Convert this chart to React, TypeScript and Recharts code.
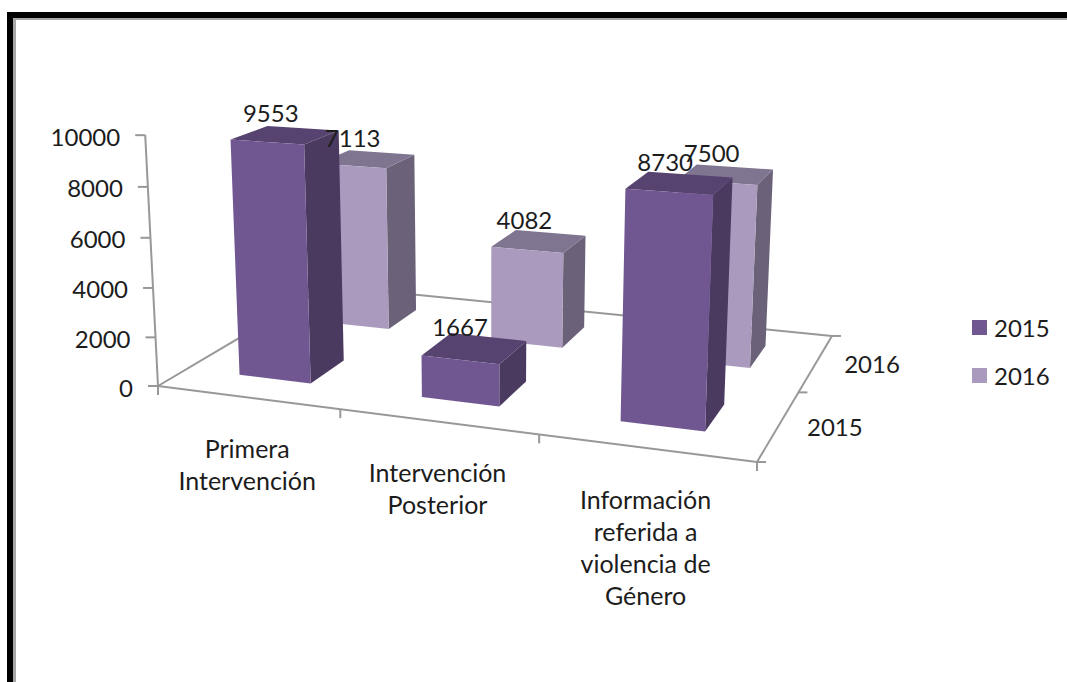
import { Bar, BarChart, LabelList, Legend, XAxis, YAxis } from 'recharts'

const categories = ['Primera Intervención', 'Intervención Posterior', 'Información referida a violencia de Género']
const values2015 = [9553, 1667, 8730]
const values2016 = [7113, 4082, 7500]
const yTicks = [0, 2000, 4000, 6000, 8000, 10000]
const depthLabels = ['2015', '2016']

const chartData = categories.map((name, i) => ({
  name,
  y2015: values2015[i],
  y2016: values2016[i],
}))

const CHART_W = 1067
const CHART_H = 682
const PLOT_LEFT = 158
const PLOT_TOP = 135
const PLOT_W = 599
const PLOT_H = 251
const BAR_SIZE = (PLOT_W / categories.length) * 0.4

const FONT = 'Lato, sans-serif'
const FONT_SIZE = 24
const CATEGORY_FONT_SIZE = 25
const TEXT = '#1c1c1c'
const AXIS = '#989898'
const AXIS_WIDTH = 2

const COLORS_2015 = { front: '#715792', side: '#4a3a60', top: '#574370' }
const COLORS_2016 = { front: '#aa9bbe', side: '#6b6279', top: '#807590' }

// camera for the tilted floor: homography of the unit square plus a vertical vanishing point
function project(u: number, v: number, h = 0) {
  const k = -0.0374 * h
  const w = -0.1251 * u + 0.2047 * v + 1 + k
  return {
    x: (504.3 * u + 235.9 * v + 158 + k * 487) / w,
    y: (18.2 * u - 41.5 * v + 386 + k * 6842) / w,
  }
}

function toPoints(corners: number[][]) {
  return corners
    .map(([u, v, h]) => {
      const p = project(u, v, h)
      return `${p.x},${p.y}`
    })
    .join(' ')
}

const toU = (x: number) => (x - PLOT_LEFT) / PLOT_W

function makeBarShape(v0: number, v1: number, colors: typeof COLORS_2015) {
  return function BarShape({ x, width, height }: any) {
    const u0 = toU(x)
    const u1 = toU(x + width)
    const h = height / PLOT_H
    return (
      <g>
        <polygon points={toPoints([[u1, v0, 0], [u1, v1, 0], [u1, v1, h], [u1, v0, h]])} fill={colors.side} />
        <polygon points={toPoints([[u0, v0, h], [u1, v0, h], [u1, v1, h], [u0, v1, h]])} fill={colors.top} />
        <polygon points={toPoints([[u0, v0, 0], [u1, v0, 0], [u1, v0, h], [u0, v0, h]])} fill={colors.front} />
      </g>
    )
  }
}

function makeValueLabel(vMid: number) {
  return function ValueLabel(props: any) {
    const box = props.viewBox ?? props
    const p = project(toU(box.x + box.width / 2), vMid, box.height / PLOT_H)
    return (
      <text x={p.x - 14.5} y={p.y - 22} textAnchor="middle" dominantBaseline="central" fontFamily={FONT} fontSize={FONT_SIZE} fill={TEXT}>
        {props.value}
      </text>
    )
  }
}

function YTick({ payload }: any) {
  const p = project(0, 0, payload.value / 10000)
  return (
    <g>
      <line x1={p.x - 10} y1={p.y} x2={p.x} y2={p.y} stroke={AXIS} strokeWidth={AXIS_WIDTH} />
      <text x={p.x - 25} y={p.y + 1} textAnchor="end" dominantBaseline="central" fontFamily={FONT} fontSize={FONT_SIZE} fill={TEXT}>
        {payload.value}
      </text>
    </g>
  )
}

function wrapLabel(label: string) {
  const lines: string[] = []
  label.split(' ').forEach((word) => {
    const last = lines[lines.length - 1]
    if (last && `${last} ${word}`.length <= 13) {
      lines[lines.length - 1] = `${last} ${word}`
    } else {
      lines.push(word)
    }
  })
  return lines
}

function XTick({ x, payload }: any) {
  const p = project(toU(x), 0)
  return (
    <g>
      {wrapLabel(payload.value).map((line, i) => (
        <text key={line} x={p.x} y={p.y + 51 + i * 32} textAnchor="middle" dominantBaseline="central" fontFamily={FONT} fontSize={CATEGORY_FONT_SIZE} fill={TEXT}>
          {line}
        </text>
      ))}
    </g>
  )
}

function FloorAxes() {
  const edges = [
    [[0, 0, 0], [0, 0, 1]],
    [[0, 0, 0], [1, 0, 0]],
    [[1, 0, 0], [1, 1, 0]],
    [[1, 1, 0], [0, 1, 0]],
    [[0, 1, 0], [0, 0, 0]],
  ]
  const frontTicks = categories.map((_, i) => project(i / categories.length, 0))
  const depthTicks = [0, 0.5, 1].map((v) => project(1, v))
  const corner = project(1, 0)
  return (
    <g>
      {edges.map(([a, b], i) => {
        const p = project(a[0], a[1], a[2])
        const q = project(b[0], b[1], b[2])
        return <line key={i} x1={p.x} y1={p.y} x2={q.x} y2={q.y} stroke={AXIS} strokeWidth={AXIS_WIDTH} />
      })}
      {[...frontTicks, corner].map((p, i) => (
        <line key={i} x1={p.x} y1={p.y} x2={p.x} y2={p.y + 9} stroke={AXIS} strokeWidth={AXIS_WIDTH} />
      ))}
      {depthTicks.map((p, i) => (
        <line key={i} x1={p.x} y1={p.y} x2={p.x + 9} y2={p.y} stroke={AXIS} strokeWidth={AXIS_WIDTH} />
      ))}
      {depthLabels.map((label, i) => {
        const p = project(1, 0.25 + i * 0.5)
        return (
          <text key={label} x={p.x + 56} y={p.y + 1} textAnchor="middle" dominantBaseline="central" fontFamily={FONT} fontSize={FONT_SIZE} fill={TEXT}>
            {label}
          </text>
        )
      })}
    </g>
  )
}

function LegendBox({ payload }: any) {
  return (
    <div style={{ display: 'flex', flexDirection: 'column', gap: 20 }}>
      {payload.map((entry: any) => (
        <div key={entry.value} style={{ display: 'flex', alignItems: 'center', height: 28, gap: 7, fontFamily: FONT, fontSize: FONT_SIZE, color: TEXT }}>
          <span style={{ width: 15, height: 15, background: entry.color }} />
          {entry.value}
        </div>
      ))}
    </div>
  )
}

export default function App() {
  return (
    <div style={{ position: 'absolute', left: 0, top: 0, width: CHART_W, height: CHART_H, background: '#fff', overflow: 'hidden' }}>
      <div style={{ position: 'absolute', left: 7, top: 12, right: 0, bottom: 0, borderLeft: '6px solid #000', borderTop: '6px solid #000' }}>
        <div style={{ position: 'absolute', inset: 0, borderLeft: '3px solid #a6a6a6', borderTop: '2px solid #a6a6a6' }} />
      </div>
      <div style={{ position: 'absolute', left: 0, top: 0 }}>
        <BarChart
          width={CHART_W}
          height={CHART_H}
          data={chartData}
          margin={{ top: PLOT_TOP, right: CHART_W - PLOT_LEFT - PLOT_W, bottom: CHART_H - PLOT_TOP - PLOT_H - 60, left: PLOT_LEFT - 100 }}
          barSize={BAR_SIZE}
          barGap={-BAR_SIZE}
        >
          <FloorAxes />
          <XAxis dataKey="name" height={60} interval={0} axisLine={false} tickLine={false} tick={XTick} />
          <YAxis width={100} domain={[0, 10000]} ticks={yTicks} interval={0} axisLine={false} tickLine={false} tick={YTick} />
          <Legend
            layout="vertical"
            align="center"
            verticalAlign="middle"
            content={LegendBox}
            wrapperStyle={{ left: 972, top: 313, width: 90 }}
          />
          <Bar dataKey="y2016" name="2016" fill={COLORS_2016.front} shape={makeBarShape(0.65, 0.85, COLORS_2016)} isAnimationActive={false}>
            <LabelList dataKey="y2016" content={makeValueLabel(0.75)} />
          </Bar>
          <Bar dataKey="y2015" name="2015" fill={COLORS_2015.front} shape={makeBarShape(0.15, 0.35, COLORS_2015)} isAnimationActive={false}>
            <LabelList dataKey="y2015" content={makeValueLabel(0.25)} />
          </Bar>
        </BarChart>
      </div>
    </div>
  )
}
